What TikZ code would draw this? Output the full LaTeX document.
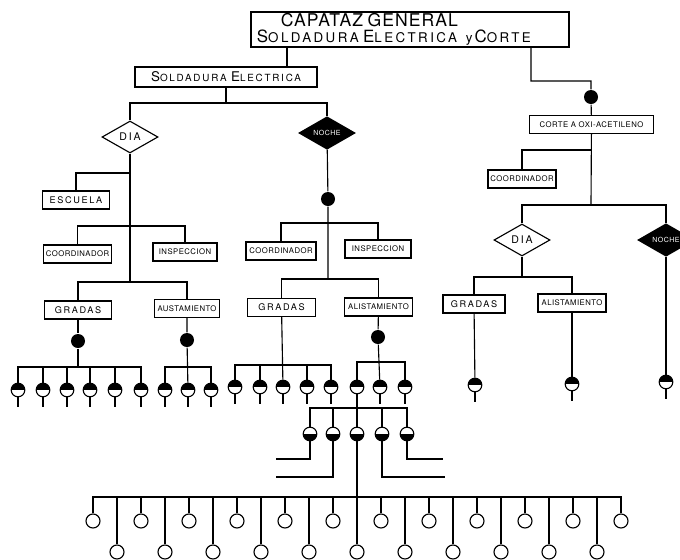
\documentclass[tikz,border=0pt]{standalone}
\usepackage{fontspec}
\newfontfamily\rotulo[LetterSpace=6]{TeX Gyre Heros}
\newfontfamily\rotuloancho[LetterSpace=18]{TeX Gyre Heros}
\newcommand{\inicial}[2][12]{{\fontsize{#1}{#1}\selectfont #2}}
\usetikzlibrary{shapes.geometric,positioning,calc}

\begin{document}
\begin{tikzpicture}[x=0.025cm, y=-0.025cm, line width=0.8pt,
        caja/.style={draw, minimum width=1.68cm, minimum height=0.45cm, inner sep=1pt, font=\rotulo\fontsize{5.5}{6}\selectfont},
        ancha/.style={font=\rotuloancho\fontsize{6.5}{7}\selectfont},
        rombo/.style={draw, diamond, minimum width=1.4cm, minimum height=0.8cm, inner sep=0pt, font=\rotuloancho\fontsize{7.5}{8}\selectfont},
        rombon/.style={rombo, fill=black, text=white, font=\rotulo\fontsize{5}{5}\selectfont},
        nudo/.style={circle, fill=black, minimum size=0.35cm, inner sep=0pt},
        medio/.style={circle, draw, fill=white, minimum size=0.34cm, inner sep=0pt,
            path picture={\fill[black] (path picture bounding box.west) rectangle (path picture bounding box.north east);}},
        mediob/.style={circle, draw, fill=white, minimum size=0.34cm, inner sep=0pt,
            path picture={\fill[black] (path picture bounding box.south west) rectangle (path picture bounding box.east);}},
        vacio/.style={circle, draw, fill=white, minimum size=0.35cm, inner sep=0pt}
    ]
    \useasboundingbox (0,0) rectangle (680,560);
    % Jefatura
    \node[draw, minimum width=7.95cm, minimum height=0.875cm, text width=7.65cm, align=left, inner ysep=1pt,
        font=\rotuloancho\fontsize{9.5}{11.5}\selectfont] (capataz) at (410,29.5)
        {\hspace*{0.6cm}{\rotulo\fontsize{12.5}{13}\selectfont CAPATAZ GENERAL}\\
         \inicial{S}OLDADURA \inicial{E}LECTRICA \ y\,\inicial{C}ORTE};
    \node[caja, minimum width=4.55cm, minimum height=0.5cm, font=\rotuloancho\fontsize{7}{8}\selectfont] (soldadura) at (226,77)
        {\inicial[9.5]{S}OLDADURA \inicial[9.5]{E}LECTRICA};
    \node[nudo] (n1) at (591,97) {};
    \node[caja, minimum width=3.08cm, minimum height=0.43cm] (corte) at (591.5,124.5) {CORTE A OXI-ACETILENO};
    \coordinate (t1) at ([xshift=-3.075cm]capataz.south);
    \coordinate (t2) at ([xshift=3.025cm]capataz.south);
    \draw (t1) -- (t1 |- soldadura.north);
    \draw (t2) |- ([yshift=0.4cm]n1.center) -- (n1) -- (corte);

    % Turnos de soldadura
    \node[rombo] (dia1) at (130,137) {DIA};
    \node[rombon] (noche1) at (327,133) {NOCHE};
    \coordinate (bA) at (226,103);
    \draw (soldadura) -- (bA);
    \draw (dia1) |- (bA) -| (noche1);

    % Dia
    \node[caja, ancha] (escuela) at (76,200) {ESCUELA};
    \node[caja] (coordA) at (77.5,254) {COORDINADOR};
    \node[caja, minimum width=1.6cm] (inspA) at (185,252) {INSPECCION};
    \node[caja, ancha] (gradA) at (78,310) {GRADAS};
    \node[caja, minimum width=1.63cm] (ajusA) at (187,308.5) {AUSTAMIENTO};
    \coordinate (kA1) at (130,173);
    \coordinate (kA2) at (130,226);
    \coordinate (kA3) at (130,282);
    \draw (dia1) -- (kA3);
    \draw (escuela) |- (kA1);
    \draw (coordA) |- (kA2) -| (inspA);
    \draw (gradA) |- (kA3) -| (ajusA);

    % Noche
    \node[nudo] (n2) at (328,199) {};
    \node[caja, minimum width=1.75cm] (coordN) at (281,251) {COORDINADOR};
    \node[caja, minimum width=1.65cm] (inspN) at (378,249) {INSPECCION};
    \node[caja, ancha] (gradN) at (281.5,307.5) {GRADAS};
    \node[caja] (alistN) at (378.5,307) {ALISTAMIENTO};
    \coordinate (kN1) at (328,223);
    \coordinate (kN2) at (328,279);
    \draw (noche1) -- (n2) -- (kN2);
    \draw (coordN) |- (kN1) -| (inspN);
    \draw (gradN) |- (kN2) -| (alistN);

    % Corte
    \node[caja, minimum width=1.7cm] (coordC) at (522,179) {COORDINADOR};
    \node[rombo] (dia2) at (522,240) {DIA};
    \node[rombon] (noche2) at (666,240) {NOCHE};
    \node[caja, ancha, minimum width=1.55cm] (gradC) at (474,304) {GRADAS};
    \node[caja, minimum width=1.7cm] (alistC) at (572,303) {ALISTAMIENTO};
    \coordinate (kC1) at (591,150);
    \coordinate (kC2) at (591,205);
    \coordinate (kD) at (522,277);
    \draw (corte) -- (kC2);
    \draw (coordC) |- (kC1);
    \draw (dia2) |- (kC2) -| (noche2);
    \draw (dia2) -- (kD);
    \draw (gradC) |- (kD) -| (alistC);
    \node[medio] (h1) at (475,385) {};
    \node[medio] (h2) at (572,384) {};
    \node[medio] (h3) at (666,382) {};
    \draw (gradC) -- (h1);
    \draw (alistC) -- (h2);
    \draw (noche2) -- (h3);
    \foreach \i in {1,2,3} \draw (h\i.south) -- ++(0,10);

    % Soldadores dia
    \node[nudo] (n3) at (78,341) {};
    \node[nudo] (n4) at (187,340) {};
    \coordinate (kG) at (78,367);
    \coordinate (kJ) at (187,367);
    \foreach \x [count=\i] in {18,43,67,90,115,141} \node[medio] (g\i) at (\x,390) {};
    \foreach \x [count=\i] in {165,188,211} \node[medio] (a\i) at (\x,390) {};
    \draw (gradA) -- (n3) -- (kG);
    \draw (g1) |- (kG) -| (g6);
    \foreach \i in {2,...,5} \draw (g\i) -- (g\i |- kG);
    \draw (ajusA) -- (n4) -- (a2);
    \draw (a1) |- (kJ) -| (a3);
    \foreach \i in {1,...,6} \draw (g\i.south) -- ++(0,10);
    \foreach \i in {1,2,3} \draw (a\i.south) -- ++(0,10);

    % Soldadores noche
    \node[nudo] (n5) at (378,337) {};
    \coordinate (kR) at (282,365);
    \coordinate (kS) at (380,362);
    \foreach \x [count=\i] in {235,260,283,307,331} \node[medio] (r\i) at (\x,387) {};
    \foreach \x [count=\i] in {357,380,405} \node[medio] (s\i) at (\x,387) {};
    \draw (gradN) -- (r3);
    \draw (r1) |- (kR) -| (r5);
    \foreach \i in {2,4} \draw (r\i) -- (r\i |- kR);
    \draw (alistN) -- (n5) -- (s2);
    \draw (s1) |- (kS) -| (s3);
    \foreach \i in {1,...,5} \draw (r\i.south) -- ++(0,10);
    \foreach \i in {2,3} \draw (s\i.south) -- ++(0,10);

    % Ayudantes
    \coordinate (kT) at (357,408);
    \foreach \x [count=\i] in {310,333,357,382,407} \node[mediob] (t\i) at (\x,434) {};
    \draw (s1) -- (t3);
    \draw (t1) |- (kT) -| (t5);
    \foreach \i in {2,4} \draw (t\i) -- (t\i |- kT);
    \coordinate (e1) at (276,459);
    \coordinate (e2) at (276,477);
    \coordinate (e4) at (445,477);
    \coordinate (e5) at (443,459);
    \draw (t1) |- (e1);
    \draw (t2) |- (e2);
    \draw (t4) |- (e4);
    \draw (t5) |- (e5);

    % Peones
    \coordinate (kB) at (357,497);
    \foreach \i in {0,...,22} {
        \pgfmathsetmacro{\yb}{mod(\i,2)==0 ? 521 : 552}
        \node[vacio] (b\i) at ({93+24*\i},\yb) {};
        \draw (b\i) -- (b\i |- kB);
    }
    \draw (t3) -- (b11);
    \draw (b0) |- (kB) -| (b22);
\end{tikzpicture}
\end{document}
